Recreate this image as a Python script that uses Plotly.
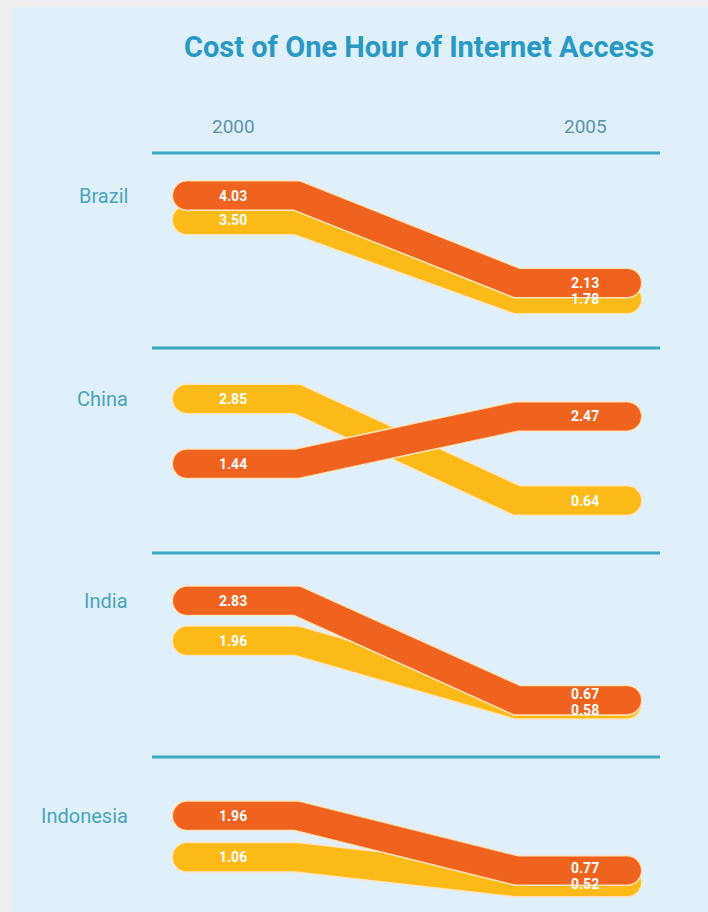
import plotly.graph_objects as go

# Cost of one hour of internet access, 2000 vs 2005
countries = ["Brazil", "China", "India", "Indonesia"]
years = ["2000", "2005"]
orange_2000 = [4.03, 1.44, 2.83, 1.96]
orange_2005 = [2.13, 2.47, 0.67, 0.77]
yellow_2000 = [3.50, 2.85, 1.96, 1.06]
yellow_2005 = [1.78, 0.64, 0.58, 0.52]

W, H = 708, 912
ORANGE = "#ef631f"
YELLOW = "#fbba17"
HALO = "#fde5bd"
BG = "#dff0fa"
BORDER = "#efefef"
TEAL = "#3aa9c0"
TITLE_BLUE = "#2898c8"
LABEL_BLUE = "#4aa3c0"
YEAR_BLUE = "#5b93b3"
FONT = "Roboto, Open Sans, sans-serif"

# step shape of each band: flat for 2000, slope, flat for 2005
X_2000 = [0, 1]
X_2005 = [3, 4]
LABEL_X = [0.42, 3.62]

# panel layout (pixels from top) and vertical scale
dividers = [153, 348, 553, 757]
panel_bottom = [348, 553, 757, H]
baseline_px = [381, 530, 731, 906]
PX_PER_UNIT = 46.0
BAND = 28
MIN_LABEL_GAP = 16  # px between stacked value labels

fig = go.Figure()
layout_axes = {}


def band(xs, ys, ax, col, width):
    fig.add_trace(go.Scatter(
        x=xs, y=ys, yaxis=ax, mode="lines+markers",
        line=dict(color=col, width=width),
        marker=dict(size=[width, 0, 0, width], color=col, opacity=1,
                    line=dict(width=0)),
        opacity=1, hoverinfo="skip", showlegend=False, cliponaxis=False))


for i, name in enumerate(countries):
    ax = "y" if i == 0 else f"y{i + 1}"
    key = "yaxis" if i == 0 else f"yaxis{i + 1}"
    p_top, p_bot = dividers[i], panel_bottom[i]
    c = baseline_px[i]
    layout_axes[key] = dict(
        domain=[1 - p_bot / H, 1 - p_top / H],
        range=[(c - p_bot) / PX_PER_UNIT, (c - p_top) / PX_PER_UNIT],
        visible=False, fixedrange=True, anchor="x",
    )

    series = [(yellow_2000[i], yellow_2005[i], YELLOW),
              (orange_2000[i], orange_2005[i], ORANGE)]
    for v0, v1, col in series:
        xs = X_2000 + X_2005
        ys = [v0, v0, v1, v1]
        band(xs, ys, ax, HALO, BAND + 3)   # pale outline
        band(xs, ys, ax, col, BAND)

    # value labels, nudged apart when two values nearly coincide
    for j in range(2):
        va = [orange_2000, orange_2005][j][i]
        vb = [yellow_2000, yellow_2005][j][i]
        gap = abs(va - vb) * PX_PER_UNIT
        nudge = max(0.0, (MIN_LABEL_GAP - gap) / 2)
        for v, other in ((va, vb), (vb, va)):
            fig.add_annotation(
                x=LABEL_X[j], xref="x", y=v, yref=ax,
                yshift=nudge if v >= other else -nudge,
                text=f"<b>{v:.2f}</b>", showarrow=False,
                font=dict(family=FONT, size=14, color="white"))

    # country name aligned with the upper 2000 band
    fig.add_annotation(
        x=130 / W, xref="paper", xanchor="right",
        y=max(orange_2000[i], yellow_2000[i]), yref=ax, yanchor="middle",
        text=name, showarrow=False,
        font=dict(family=FONT, size=20, color=LABEL_BLUE))

# year headers
for xv, yr in zip(LABEL_X, years):
    fig.add_annotation(
        x=xv, xref="x", y=1 - 127 / H, yref="paper", yanchor="middle",
        text=yr, showarrow=False,
        font=dict(family=FONT, size=19, color=YEAR_BLUE))

shapes = [
    # light blue card on a grey page edge
    dict(type="rect", xref="paper", yref="paper", x0=12 / W, x1=1,
         y0=0, y1=1 - 7 / H, fillcolor=BG, line=dict(width=0), layer="below"),
]
for d in dividers:
    shapes.append(dict(type="line", xref="paper", yref="paper",
                       x0=152 / W, x1=660 / W, y0=1 - d / H, y1=1 - d / H,
                       line=dict(color=TEAL, width=3), layer="below"))

fig.update_layout(
    width=W, height=H,
    margin=dict(l=0, r=0, t=0, b=0),
    paper_bgcolor=BORDER, plot_bgcolor="rgba(0,0,0,0)",
    title=dict(text="<b>Cost of One Hour of Internet Access</b>",
               x=419 / W, xanchor="center", y=1 - 47 / H, yanchor="middle",
               font=dict(family=FONT, size=29, color=TITLE_BLUE)),
    xaxis=dict(range=[-187 / 110, (W - 187) / 110], domain=[0, 1],
               visible=False, fixedrange=True),
    shapes=shapes,
    **layout_axes,
)

fig.write_html("out.html")
